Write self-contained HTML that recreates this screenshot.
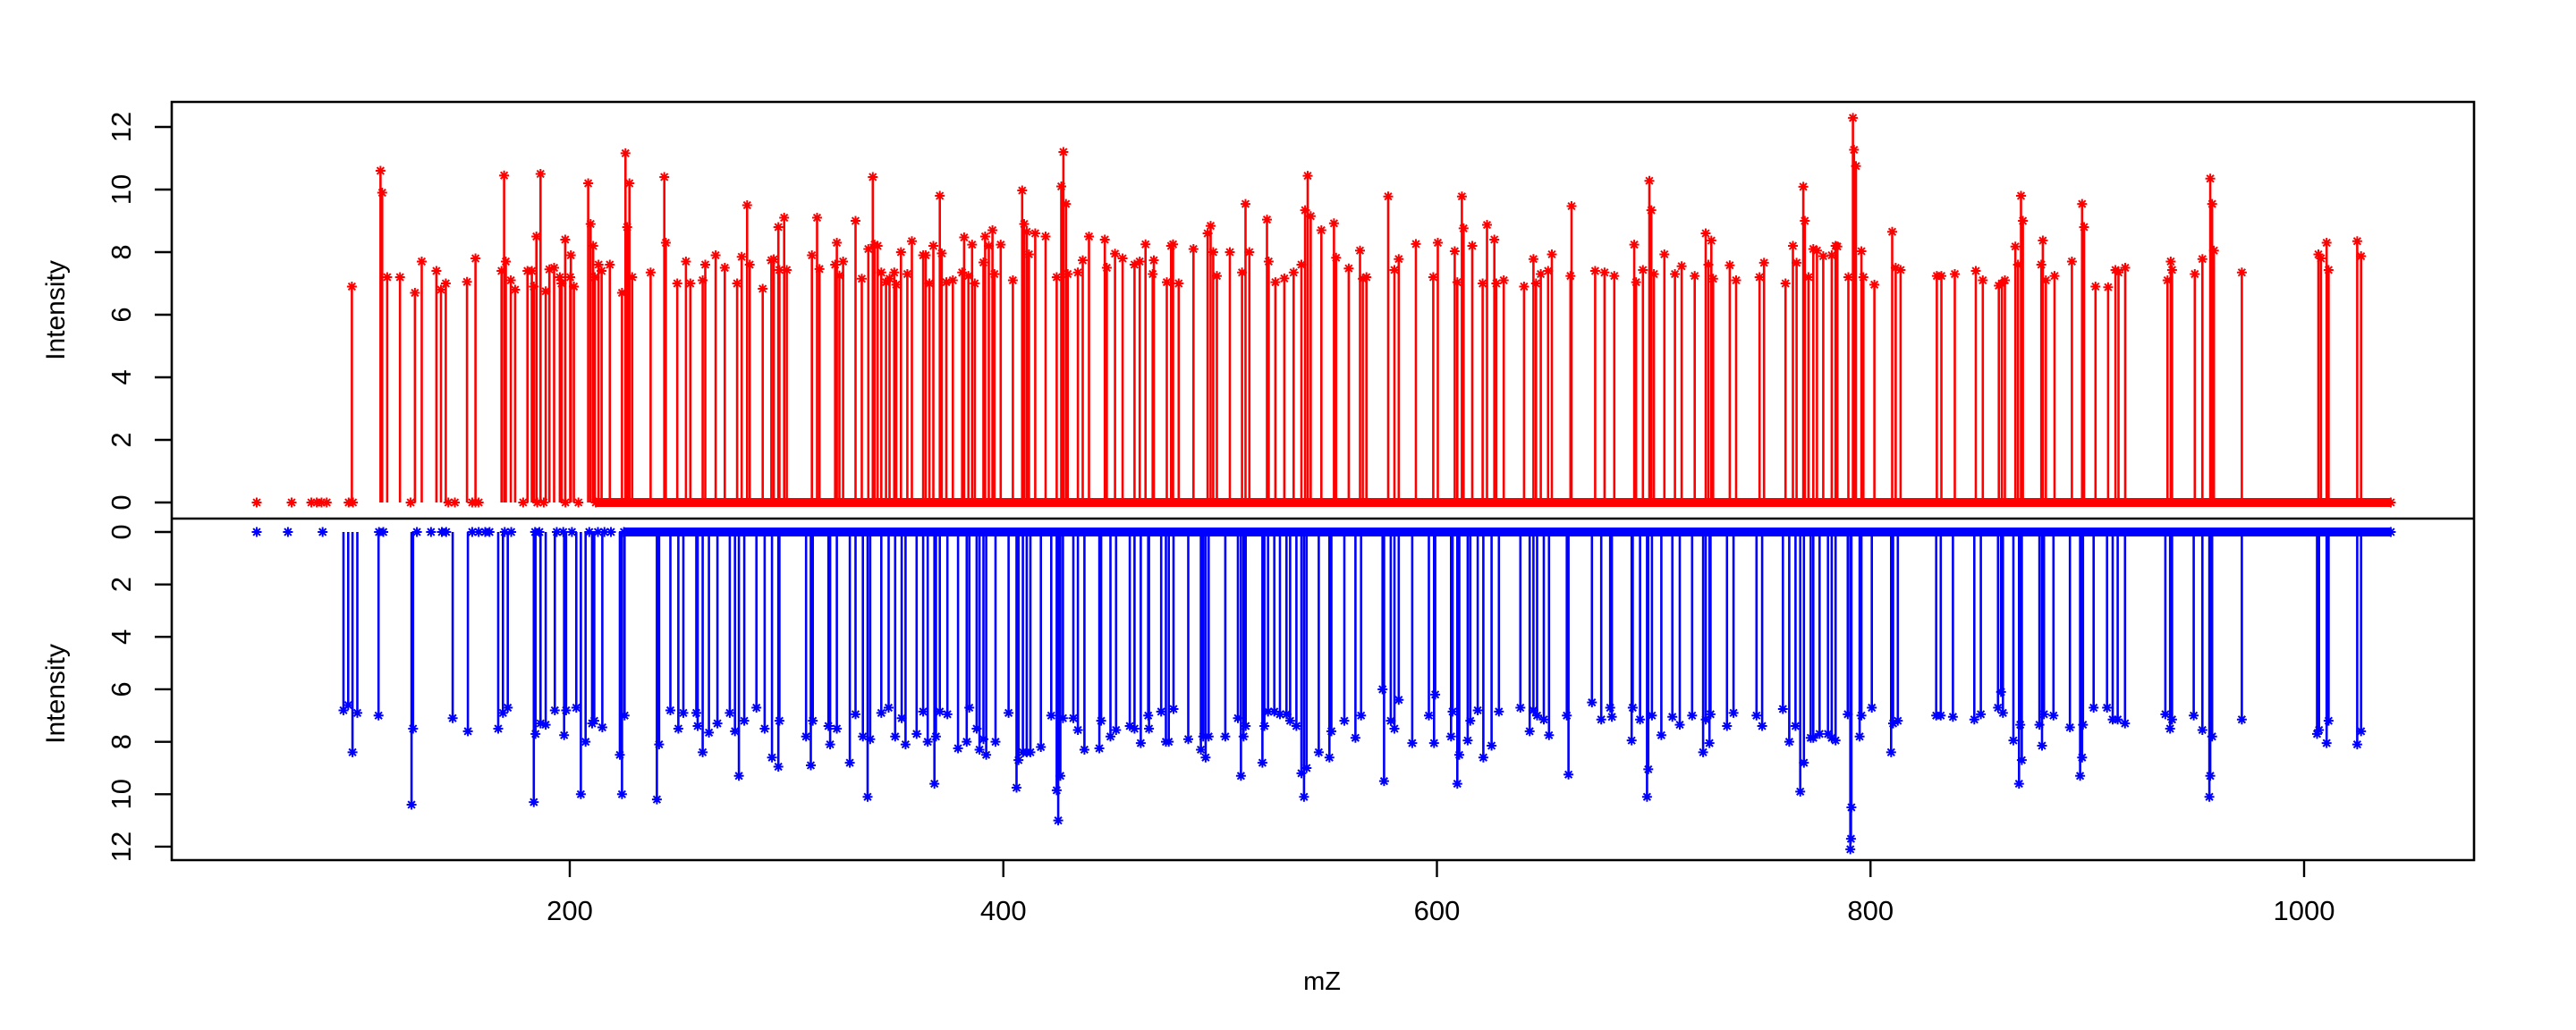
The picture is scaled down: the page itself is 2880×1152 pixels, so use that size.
<!DOCTYPE html>
<html><head><meta charset="utf-8"><style>
html,body{margin:0;padding:0;background:#fff}
svg{display:block}
text{font-family:"Liberation Sans",sans-serif;fill:#000}
</style></head><body>
<svg id="chart" xmlns="http://www.w3.org/2000/svg" width="2880" height="1152" viewBox="0 0 2880 1152">
<rect width="2880" height="1152" fill="#fff"/>
<g id="redG"></g>
<g id="blueG"></g>
<g id="axes"></g>
</svg>
<script>
const xTicks=[200,400,600,800,1000];
const yTicks=[0,2,4,6,8,10,12];
const redMz=[99.5,112.7,113.5,115.8,121.7,128.6,131.7,138.5,140.6,142.8,152.6,156.5,168.5,169.7,170.5,172.8,174.8,180.5,182.5,183.4,184.6,186.5,188.9,190.6,192.8,195.4,196.2,197.9,200.2,200.5,201.9,208.5,209.6,210.8,211.6,213.3,214.7,218.5,224.1,225.7,226.5,227.5,228.8,237.3,243.6,244.3,249.6,253.6,255.6,261.3,262.5,267.3,271.5,277.2,279.3,281.8,283.0,
289,293,294.1,296.2,296.7,298.9,300.1,311.7,314.1,315.2,322.4,323.2,324.4,326.1,331.8,334.7,337.7,339.8,340.6,342,343.7,345.9,347.5,349.7,350.6,352.8,355.7,357.8,363,364.2,365.9,367.7,370.7,371.6,373.7,376.7,381,381.9,383.9,385.6,386.8,390.8,391.6,393.3,395,395.9,398.8,404.4,408.7,409.6,410.8,411.8,414.7,419.5,424.6,426.7,427.7,428.9,429.7,434.4,436.6,439.5,446.8,447.7,451.5,455,460.5,462.9,465.6,468.9,469.4,475.4,477.4,478.3,480.9,487.7,494.2,495.6,496.8,498.5,504.5,510.1,511.7,513.5,521.6,522.4,525.5,529.6,533.9,537.5,539.2,540.4,541.8,546.7,
552.5,553.5,559.3,564.5,565.8,567.5,577.5,580.4,582.4,590.3,598.3,600.4,608.2,609.4,611.5,612.3,616.3,621.1,623.1,626.5,627.4,630.8,640.2,644.5,645.7,647.9,651.3,653,661.6,662.1,673,677.3,681.8,691,691.9,695,698,698.9,700.1,704.9,709.8,712.9,718.9,724,725.2,726.6,727.4,735.1,738,748.8,750.9,760.8,764.2,765.9,769,769.7,771.4,773.6,775.3,778.2,782.1,783.9,784.7,789.8,791.9,792.4,793.3,795.8,796.7,801.8,810,
811.6,813.9,830.6,832.7,838.9,848.6,851.8,859.2,860.6,862,866.8,868,869.4,870.3,878.8,879.5,880.9,884.9,892.9,897.6,898.5,903.8,909.6,913,914.4,917.5,937,938.5,939.1,949.6,953.1,956.7,957.6,958.4,971.3,1006.6,1007.8,1010.4,1011.3,1024.5,1026.3];
const redInt=[6.9,10.6,9.9,7.2,7.2,6.7,7.7,7.4,6.8,7.0,7.05,7.8,7.4,10.45,7.7,7.1,6.8,7.4,7.4,6.9,8.5,10.5,6.75,7.45,7.5,7.2,7.0,8.4,7.2,7.9,6.9,10.2,8.9,8.2,7.2,7.6,7.4,7.6,6.7,11.16,8.8,10.2,7.2,7.35,10.4,8.3,7.0,7.7,7.0,7.1,7.6,7.9,7.5,7.0,7.85,9.5,7.6,
6.83,7.74,7.77,8.8,7.43,9.1,7.43,7.9,9.1,7.46,7.6,8.3,7.25,7.7,9.0,7.15,8.1,10.4,8.24,8.2,7.35,7.04,7.15,7.35,6.96,8.0,7.3,8.35,7.9,7.9,7.0,8.2,9.8,7.96,7.04,7.1,7.35,8.47,7.24,8.24,7.0,7.67,8.5,8.2,8.7,7.3,8.24,7.1,9.97,8.9,8.65,7.93,8.6,8.5,7.2,10.1,11.2,9.54,7.3,7.35,7.74,8.5,8.4,7.5,7.95,7.8,7.6,7.7,8.25,7.3,7.74,7.04,8.2,8.25,7.0,8.1,8.6,8.84,8.0,7.24,8.0,7.35,9.54,8.0,9.04,7.7,7.04,7.16,7.35,7.6,9.34,10.44,9.15,8.7,
8.92,7.82,7.48,8.05,7.15,7.2,9.78,7.43,7.78,8.26,7.2,8.3,8.03,7.04,9.78,8.76,8.2,7.0,8.87,8.4,7.0,7.1,6.9,7.78,7.0,7.3,7.4,7.93,7.24,9.47,7.4,7.35,7.24,8.24,7.04,7.43,10.28,9.34,7.3,7.93,7.3,7.55,7.24,8.6,7.6,8.37,7.15,7.58,7.1,7.2,7.66,7.0,8.2,7.66,10.09,9.0,7.2,8.1,8.05,7.87,7.9,8.2,8.18,7.2,12.29,11.27,10.75,8.03,7.2,6.96,8.65,
7.5,7.43,7.24,7.24,7.3,7.4,7.1,6.93,7.0,7.1,8.18,7.6,9.8,9.0,7.6,8.37,7.1,7.24,7.7,9.54,8.8,6.9,6.88,7.43,7.35,7.5,7.1,7.7,7.43,7.3,7.78,10.35,9.54,8.05,7.35,7.93,7.8,8.3,7.43,8.35,7.87];
const redZeroMz=[55.6,71.7,80.8,83.3,85.5,87.9,98,100,126.6,144,147,155,156.5,158,178.5,185,188,198,204];
const redBand=[212,1040];
const blueMz=[95.6,97.8,99.8,102,111.8,127,127.7,146,153,167,169.2,171.4,183.4,184.2,186.5,188.9,193.1,197.4,198.3,203,205.1,207.3,210.3,211.3,215,223.1,224.1,225.3,240.2,241.2,246.4,250.1,252.4,258.4,259,261.3,264.2,268.1,273.8,276.2,278,
280.5,286.1,289.9,293.3,296.2,296.7,309,311.2,312.1,319.3,320.1,323.2,329.2,331.8,335.2,337.4,338.6,343.7,347.1,350.1,353.1,354.9,360,363,365.1,368.2,368.9,370.7,374.2,379.1,383.1,384.3,387.7,389,390.8,392.1,396.4,402.4,406.1,407,409,410.8,412.5,417.3,422.1,424.6,425.3,426.3,427.5,432.3,434.4,437.4,444.3,445.1,449.4,452,458.3,460.5,463.4,466.8,467.2,472.8,475,476.3,478.5,485.3,491.1,492.2,493.3,494.7,502.4,508.2,509.6,510.8,511.8,519.5,520.4,522.1,525,527.6,530.6,532.3,535.2,537.5,538.7,539.9,545.5,
550.4,551.3,557.3,562.4,565,574.9,575.6,578.7,580.4,582.4,588.6,596.3,598.7,599.2,606.5,607.2,609.4,610.3,614.2,615.4,618.8,621.4,625.2,628.6,638.5,642.8,644.5,646.2,649.3,651.7,659.9,660.7,671.5,675.8,679.9,680.7,689.8,690.3,693.7,696.9,697.5,699.2,703.5,708.6,712,717.7,722.8,724,725.7,726.2,733.8,736.8,747.4,750,759.6,762.5,765.4,767.6,769.3,772.4,773.6,776.5,780.4,782.1,783.9,789.5,790.7,791,791.2,795,795.8,800.6,809.5,810.4,
812.6,830.3,832.4,838,847.9,850.9,858.8,860.2,861.1,865.9,868.5,869.1,869.8,877.9,879.1,880,884.4,892,896.7,897.6,898,902.9,909.1,911.7,914,917.4,936,938.2,939.1,949.1,953.1,956.3,956.7,957.6,971.3,1006,1006.9,1010.4,1011.3,1024.5,1026.3];
const blueInt=[6.8,6.6,8.4,6.9,7.0,10.4,7.5,7.1,7.6,7.5,6.9,6.7,10.3,7.7,7.3,7.35,6.8,7.75,6.8,6.7,10.0,8.0,7.3,7.2,7.45,8.5,10.0,7.0,10.2,8.1,6.8,7.5,6.9,6.9,7.4,8.4,7.65,7.3,6.9,7.6,9.3,
7.2,6.7,7.5,8.6,8.95,7.2,7.8,8.9,7.2,7.4,8.1,7.5,8.8,6.95,7.8,10.1,7.9,6.9,6.7,7.8,7.1,8.1,7.7,6.85,8.0,9.6,7.8,6.85,6.95,8.25,8.0,6.7,7.5,8.3,7.9,8.5,8.0,6.9,9.75,8.7,8.4,8.4,8.4,8.2,7.0,9.85,11.0,9.3,7.1,7.1,7.55,8.3,8.25,7.2,7.8,7.55,7.4,7.5,8.05,7.0,7.5,6.85,8.0,8.0,6.75,7.9,8.3,7.8,8.6,7.8,7.8,7.1,9.3,7.8,7.4,8.8,7.4,6.85,6.85,6.95,6.95,7.2,7.4,9.2,10.1,9.0,8.4,
8.6,7.6,7.2,7.85,7.0,6.0,9.5,7.2,7.5,6.4,8.05,7.0,8.05,6.2,7.8,6.85,9.6,8.5,7.95,7.2,6.8,8.6,8.15,6.85,6.7,7.6,6.8,7.0,7.15,7.75,7.0,9.25,6.5,7.15,6.7,7.05,7.95,6.7,7.15,10.1,9.05,7.0,7.75,7.05,7.35,7.0,8.4,7.15,8.05,6.95,7.4,6.9,7.0,7.4,6.75,8.0,7.4,9.9,8.8,7.85,7.85,7.7,7.7,7.85,7.95,6.95,12.1,11.7,10.5,7.8,7.0,6.7,8.4,7.3,
7.2,7.0,7.0,7.05,7.15,6.95,6.7,6.1,6.9,7.95,9.6,7.35,8.7,7.35,8.15,6.95,7.0,7.45,9.3,8.6,7.35,6.7,6.7,7.15,7.15,7.3,6.95,7.5,7.15,7.0,7.55,10.1,9.3,7.8,7.15,7.7,7.55,8.05,7.2,8.1,7.6];
const blueZeroMz=[55.6,70,86,112,114,129.5,136,141,143,155,158,161,163,170,173,184,186,194,197,201,209,213,216,219];
const blueBand=[225,1040];

const NS='http://www.w3.org/2000/svg';
const X0=637,X1=2576;
function xs(m){return X0+(m-200)*(X1-X0)/800;}
function yTop(v){return 562-v*35;}
function yBot(v){return 595+v*29.33;}
function mk(tag,attrs,parent){const e=document.createElementNS(NS,tag);for(const k in attrs)e.setAttribute(k,attrs[k]);parent.appendChild(e);return e;}
function starPath(x,y){const r=5.5,d=3.9;return `M${x-r},${y}H${x+r}M${x},${y-r}V${y+r}M${x-d},${y-d}L${x+d},${y+d}M${x-d},${y+d}L${x+d},${y-d}`;}

function drawSeries(g,mz,val,zeros,band,yf,color,prefix){
  const b=mk('line',{x1:xs(band[0]),x2:xs(band[1]),y1:yf(0),y2:yf(0),stroke:color,'stroke-width':10},g);
  
  
  let sd='';
  zeros.forEach(m=>{sd+=starPath(xs(m),yf(0));});
  sd+=starPath(xs(band[0]),yf(0))+starPath(xs(band[1]),yf(0));
  let ld='';
  mz.forEach((m,i)=>{
    const x=xs(m).toFixed(1);
    ld+=`M${x},${yf(0)}V${yf(val[i]).toFixed(1)}`;
    sd+=starPath(+x,yf(val[i]));
  });
  const stems=mk('path',{d:ld,stroke:color,'stroke-width':2.6,fill:'none'},g);
  
  
  const stars=mk('path',{d:sd,stroke:color,'stroke-width':2,fill:'none'},g);
  
  
}
drawSeries(document.getElementById('redG'),redMz,redInt,redZeroMz,redBand,yTop,'#ff0000','red');
drawSeries(document.getElementById('blueG'),blueMz,blueInt,blueZeroMz,blueBand,yBot,'#0000ff','blue');

const ax=document.getElementById('axes');
const L=192,R=2766,T=114,M=580,B=962;
const frame=mk('path',{d:`M${L},${T}H${R}V${B}H${L}Z M${L},${M}H${R}`,stroke:'#000','stroke-width':2.6,fill:'none'},ax);


xTicks.forEach(t=>{
  const x=xs(t);
  const tk=mk('line',{x1:x,x2:x,y1:B,y2:B+19,stroke:'#000','stroke-width':2.4},ax);
  
  
  const lb=mk('text',{x:x,y:1029,'text-anchor':'middle','font-size':31},ax);
  lb.textContent=t;
  
  
});
[[yTop,'top'],[yBot,'bottom']].forEach(([yf,p])=>{
  yTicks.forEach(t=>{
    const y=yf(t);
    const tk=mk('line',{x1:L-19,x2:L,y1:y,y2:y,stroke:'#000','stroke-width':2.4},ax);
    
    
    const lb=mk('text',{x:0,y:0,'text-anchor':'middle','font-size':31,transform:`translate(146,${y}) rotate(-90)`},ax);
    lb.textContent=t;
    
    
  });
});
[[347,'top-y-axis-title'],[776,'bottom-y-axis-title']].forEach(([y,n])=>{
  const t=mk('text',{x:0,y:0,'text-anchor':'middle','font-size':30,transform:`translate(72,${y}) rotate(-90)`},ax);
  t.textContent='Intensity';
  
  
});
const xt=mk('text',{x:1478,y:1107,'text-anchor':'middle','font-size':29},ax);
xt.textContent='mZ';


</script>
</body></html>
